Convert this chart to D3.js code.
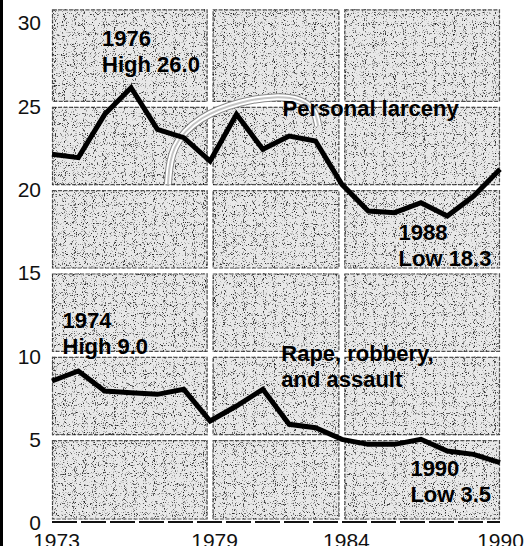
<!DOCTYPE html>
<html>
<head>
<meta charset="utf-8">
<script src="https://cdn.jsdelivr.net/npm/d3@7"></script>
<style>
  html, body { margin: 0; padding: 0; background: #fff; }
  #chart { width: 526px; height: 546px; }
  text { font-family: "Liberation Sans", Arial, Helvetica, sans-serif; }
</style>
</head>
<body>
<div id="chart"></div>
<script>
// chart data
const years = d3.range(1973, 1991);
const larceny = [22.0, 21.8, 24.4, 26.0, 23.5, 23.0, 21.6, 24.4, 22.3, 23.1, 22.8, 20.2, 18.6, 18.5, 19.1, 18.3, 19.5, 21.1];
const violent = [8.4, 9.0, 7.8, 7.7, 7.6, 7.9, 6.0, 6.9, 7.9, 5.8, 5.6, 4.9, 4.6, 4.6, 4.9, 4.2, 4.0, 3.5];
const yTicks = [0, 5, 10, 15, 20, 25, 30];
const xTicks = [1973, 1979, 1984, 1990];
const notes = [
    {lines: ["1976", "High 26.0"], x: 1974.9, y: 28.5},
    {lines: ["Personal larceny"], x: 1981.75, y: 24.3},
    {lines: ["1988", "Low 18.3"], x: 1986.15, y: 16.85},
    {lines: ["1974", "High 9.0"], x: 1973.4, y: 11.6},
    {lines: ["Rape, robbery,", "and assault"], x: 1981.7, y: 9.6},
    {lines: ["1990", "Low 3.5"], x: 1986.6, y: 2.7}
];

const width = 526, height = 546;
const margin = {top: 21, right: 26, bottom: 25, left: 52};

const x = d3.scaleLinear().domain([1973, 1990]).range([margin.left, width - margin.right]);
const y = d3.scaleLinear().domain([0, 30]).range([height - margin.bottom, margin.top]);

const svg = d3.select("#chart").append("svg")
    .attr("width", width)
    .attr("height", height);

const defs = svg.append("defs");

// sparse speckle, like the scanned screen print
function speckFilter(id, seed, a, b) {
    const f = defs.append("filter").attr("id", id)
        .attr("x", 0).attr("y", 0).attr("width", "100%").attr("height", "100%");
    f.append("feTurbulence").attr("type", "fractalNoise")
        .attr("baseFrequency", 0.9).attr("numOctaves", 1).attr("seed", seed);
    f.append("feColorMatrix").attr("type", "matrix")
        .attr("values", `0 0 0 0 0  0 0 0 0 0  0 0 0 0 0  ${a} 0 0 0 ${b}`);
}
speckFilter("darkSpeck", 4, 12, -7.7);
speckFilter("greySpeck", 19, 10, -6.0);

// grey panels separated by white gutters at each tick
const colEdges = xTicks;
const rowEdges = [0, 5, 10, 15, 20, 25, 30.7];
const gap = 2.5;
const panels = [];
for (let i = 0; i < colEdges.length - 1; i++) {
    for (let j = 0; j < rowEdges.length - 1; j++) {
        const x0 = x(colEdges[i]) + (i > 0 ? gap : 0);
        const x1 = x(colEdges[i + 1]) - (i < colEdges.length - 2 ? gap : 0);
        const y0 = y(rowEdges[j + 1]) + (j < rowEdges.length - 2 ? gap : 0);
        const y1 = y(rowEdges[j]) - (j > 0 ? gap : 1.5);
        panels.push({x: x0, y: y0, w: x1 - x0, h: y1 - y0});
    }
}

const clip = defs.append("clipPath").attr("id", "panelClip");
clip.selectAll("rect").data(panels).join("rect")
    .attr("x", d => d.x).attr("y", d => d.y)
    .attr("width", d => d.w).attr("height", d => d.h);

svg.append("g").attr("id", "panels")
    .selectAll("rect").data(panels).join("rect")
    .attr("x", d => d.x).attr("y", d => d.y)
    .attr("width", d => d.w).attr("height", d => d.h)
    .attr("fill", "#e8e8e8");

const tex = svg.append("g").attr("clip-path", "url(#panelClip)");
tex.append("rect").attr("x", 0).attr("y", 0).attr("width", width).attr("height", height)
    .attr("fill", "#888").attr("opacity", 0.6).attr("filter", "url(#greySpeck)");
tex.append("rect").attr("x", 0).attr("y", 0).attr("width", width).attr("height", height)
    .attr("fill", "#222").attr("opacity", 0.8).attr("filter", "url(#darkSpeck)");

svg.append("g").selectAll("rect").data(panels).join("rect")
    .attr("x", d => d.x + 0.5).attr("y", d => d.y + 0.5)
    .attr("width", d => d.w - 1).attr("height", d => d.h - 1)
    .attr("fill", "none")
    .attr("stroke", "#222")
    .attr("stroke-width", 1.2)
    .attr("stroke-dasharray", "4 1.5")
    .attr("opacity", 0.75);

// faint arc left on the scan near the larceny label
const arc = d3.line().curve(d3.curveBasis)
    .x(d => x(d[0])).y(d => y(d[1]));
const arcPts = [[1977.4, 20.2], [1977.5, 22.5], [1978.6, 24.3], [1980.2, 25.2], [1981.5, 25.5], [1982.5, 25.3], [1983.0, 24.6], [1983.1, 23.7]];
svg.append("path").attr("d", arc(arcPts))
    .attr("fill", "none").attr("stroke", "#888").attr("stroke-width", 8);
svg.append("path").attr("d", arc(arcPts))
    .attr("fill", "none").attr("stroke", "#fff").attr("stroke-width", 6);
svg.append("path").attr("d", arc(arcPts))
    .attr("fill", "none").attr("stroke", "#c4c4c4").attr("stroke-width", 2);

// left rule
svg.append("line")
    .attr("x1", 1.5).attr("x2", 1.5).attr("y1", 0).attr("y2", height)
    .attr("stroke", "#000").attr("stroke-width", 3);

// dashed baseline
svg.append("line")
    .attr("x1", x(1973)).attr("x2", x(1990))
    .attr("y1", y(0) + 1).attr("y2", y(0) + 1)
    .attr("stroke", "#111").attr("stroke-width", 2)
    .attr("stroke-dasharray", "25 4");

// axes
const yAxis = svg.append("g").attr("class", "yAxis")
    .attr("transform", `translate(${margin.left - 11},0)`)
    .call(d3.axisLeft(y).tickValues(yTicks).tickSize(0).tickPadding(0));
yAxis.select(".domain").remove();
yAxis.selectAll("text")
    .attr("font-size", 21).attr("fill", "#111")
    .attr("font-family", "'Liberation Sans', Arial, sans-serif")
    .attr("dy", "0.42em");

const xAxis = svg.append("g").attr("class", "xAxis")
    .attr("transform", `translate(0,${height})`)
    .call(d3.axisBottom(x).tickValues(xTicks).tickFormat(d3.format("d")).tickSize(0).tickPadding(0));
xAxis.select(".domain").remove();
xAxis.selectAll("text")
    .attr("font-size", 21).attr("fill", "#111")
    .attr("font-family", "'Liberation Sans', Arial, sans-serif")
    .attr("dy", 2)
    .attr("dx", d => d === 1990 ? 0 : 4)
    .attr("y", 0);

// series lines
const line = d3.line()
    .x((d, i) => x(years[i]))
    .y(d => y(d));

svg.append("g").attr("id", "plot")
    .selectAll("path").data([larceny, violent]).join("path")
    .attr("d", line)
    .attr("fill", "none")
    .attr("stroke", "#000")
    .attr("stroke-width", 5)
    .attr("stroke-linejoin", "miter");

// annotations
const ann = svg.append("g").attr("class", "notes");
notes.forEach(n => {
    const t = ann.append("text")
        .attr("x", x(n.x)).attr("y", y(n.y))
        .attr("font-size", 22)
        .attr("font-weight", "bold")
        .attr("fill", "#000");
    n.lines.forEach((s, i) => {
        t.append("tspan").attr("x", x(n.x)).attr("dy", i === 0 ? 0 : 26).text(s);
    });
});
</script>
</body>
</html>
